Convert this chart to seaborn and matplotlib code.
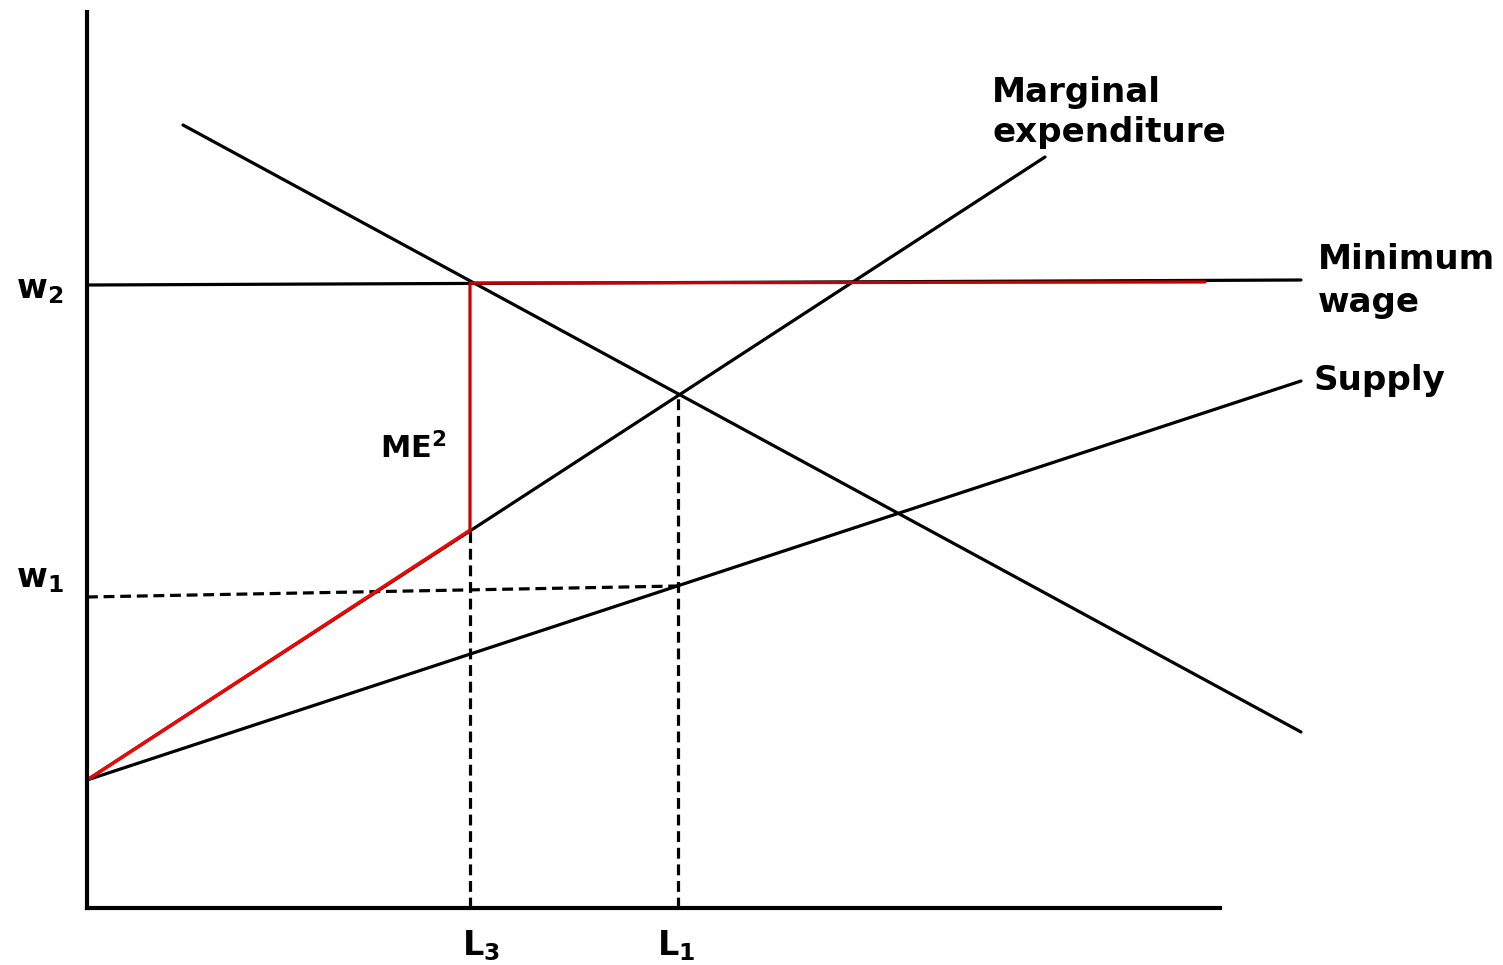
import matplotlib
matplotlib.use("Agg")
import matplotlib.pyplot as plt
import seaborn as sns
import pandas as pd

# ---- data (economic units: labour on x, wage on y) ----
axis_x_max = 11.33
axis_y_max = 8.96

demand_x = [0.96, 12.14]
demand_y = [7.83, 1.76]

me_x = [0.0, 9.58]
me_y = [1.28, 7.51]

supply_x = [0.0, 12.14]
supply_y = [1.28, 5.27]

minwage_x = [0.0, 12.14]
minwage_y = [6.23, 6.28]

me2_low_x = [0.0, 3.83]
me2_low_y = [1.28, 3.78]
me2_up_x = [3.83, 3.83, 11.18]
me2_up_y = [3.78, 6.25, 6.26]

w1_x = [0.0, 5.91]
w1_y = [3.11, 3.22]

L3 = 3.83
L3_top = 3.78
L1 = 5.91
L1_top = 5.12

sns.set_theme(style="white")
plt.rcParams["font.family"] = ["DejaVu Sans"]
plt.rcParams["text.color"] = "black"
plt.rcParams["mathtext.fontset"] = "custom"
plt.rcParams["mathtext.bf"] = "DejaVu Sans:bold"
plt.rcParams["mathtext.rm"] = "DejaVu Sans:bold"

fig = plt.figure(figsize=(15.03, 9.65), dpi=100)
ax = fig.add_axes([0, 0, 1, 1])
ax.set_xlim(-0.87, 14.16)
ax.set_ylim(-0.57, 9.08)
ax.set_facecolor("white")

lw = 2.3

def line(x, y, color="black", **kw):
    df = pd.DataFrame({"x": x, "y": y})
    sns.lineplot(data=df, x="x", y="y", sort=False, estimator=None,
                 color=color, lw=lw, ax=ax, **kw)

dash = (0, (3.4, 1.8))

line(demand_x, demand_y)
line(me_x, me_y)
line(supply_x, supply_y)
line(minwage_x, minwage_y)
line(w1_x, w1_y, linestyle=dash)
line([L3, L3], [0, L3_top], linestyle=dash)
line([L1, L1], [0, L1_top], linestyle=dash)
line(me2_low_x, me2_low_y, color="#ff0000", zorder=4)
line(me2_up_x, me2_up_y, color="#c80000", zorder=4)

# axes
for s in ["top", "right"]:
    ax.spines[s].set_visible(False)
ax.spines["left"].set_position(("data", 0))
ax.spines["bottom"].set_position(("data", 0))
ax.spines["left"].set_bounds(0, axis_y_max)
ax.spines["bottom"].set_bounds(0, axis_x_max)
for s in ["left", "bottom"]:
    ax.spines[s].set_linewidth(3.0)
    ax.spines[s].set_color("black")
    ax.spines[s].set_zorder(5)
ax.set_xticks([])
ax.set_yticks([])
ax.set_xlabel("")
ax.set_ylabel("")

fs_label = 24
fs_big = 24.6
tc = "black"

ax.text(-0.47, 6.10, r"$\mathbf{w}_{\mathbf{2}}$", fontsize=fs_label,
        ha="center", va="baseline", color=tc)
ax.text(-0.47, 3.21, r"$\mathbf{w}_{\mathbf{1}}$", fontsize=fs_label,
        ha="center", va="baseline", color=tc)
ax.text(3.75, -0.47, r"$\mathbf{L}_{\mathbf{3}}$", fontsize=fs_label,
        ha="left", va="baseline", color=tc)
ax.text(5.70, -0.47, r"$\mathbf{L}_{\mathbf{1}}$", fontsize=fs_label,
        ha="left", va="baseline", color=tc)
ax.text(2.93, 4.50, r"$\mathbf{ME}^{\mathbf{2}}$", fontsize=22,
        ha="left", va="baseline", color=tc)

ax.text(9.05, 8.06, "Marginal", fontsize=fs_big, fontweight="bold",
        ha="left", va="baseline", color=tc)
ax.text(9.05, 7.66, "expenditure", fontsize=fs_big, fontweight="bold",
        ha="left", va="baseline", color=tc)
ax.text(12.31, 6.39, "Minimum", fontsize=fs_big, fontweight="bold",
        ha="left", va="baseline", color=tc)
ax.text(12.31, 5.96, "wage", fontsize=fs_big, fontweight="bold",
        ha="left", va="baseline", color=tc)
ax.text(12.26, 5.18, "Supply", fontsize=fs_big, fontweight="bold",
        ha="left", va="baseline", color=tc)

fig.savefig("out.png", dpi=100, facecolor="white")
